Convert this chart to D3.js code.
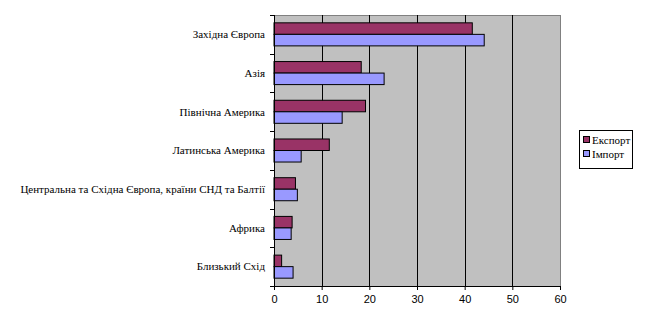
<!DOCTYPE html>
<html>
<head>
<meta charset="utf-8">
<script src="https://cdn.jsdelivr.net/npm/d3@7/dist/d3.min.js"></script>
<style>
  html, body { margin: 0; padding: 0; background: #fff; }
  svg { display: block; }
</style>
</head>
<body>
<svg id="chart" width="646" height="328"></svg>
<script>
// Regions, shares of export and import (%)
const regions = [
  "Західна Європа",
  "Азія",
  "Північна Америка",
  "Латинська Америка",
  "Центральна та Східна Європа, країни СНД та Балтії",
  "Африка",
  "Близький Схід"
];
const exportValues = [41.6, 18.3, 19.2, 11.6, 4.5, 3.8, 1.6];
const importValues = [44.1, 23.1, 14.3, 5.7, 4.9, 3.6, 4.0];
const seriesNames = ["Експорт", "Імпорт"];
const seriesColors = ["#993366", "#9999FF"];
const xTicks = [0, 10, 20, 30, 40, 50, 60];

const serif = "font-family:'Liberation Serif','Times New Roman',serif";
const sans = "font-family:'Liberation Sans',Arial,sans-serif";

const svg = d3.select("#chart");
const plot = { left: 274, right: 560, top: 15, bottom: 286 };

const x = d3.scaleLinear().domain([0, 60]).range([plot.left, plot.right]);
const y = d3.scaleBand().domain(regions).range([plot.top, plot.bottom]).paddingInner(0).paddingOuter(0);
const inner = d3.scaleBand().domain(seriesNames).range([0, y.bandwidth()]).paddingInner(0).paddingOuter(0.68);

// Plot background
svg.append("rect")
  .attr("x", plot.left).attr("y", plot.top)
  .attr("width", plot.right - plot.left).attr("height", plot.bottom - plot.top)
  .attr("fill", "#C0C0C0").attr("stroke", "#808080").attr("stroke-width", 1)
  .attr("shape-rendering", "crispEdges");

// Vertical gridlines
svg.append("g").selectAll("line")
  .data(xTicks.filter(t => t > 0 && t < 60))
  .join("line")
  .attr("x1", d => Math.round(x(d)) + 0.5).attr("x2", d => Math.round(x(d)) + 0.5)
  .attr("y1", plot.top).attr("y2", plot.bottom)
  .attr("stroke", "#000").attr("stroke-width", 1);

// Bars
const data = regions.map((r, i) => ({ region: r, values: [exportValues[i], importValues[i]] }));
const groups = svg.append("g").selectAll("g")
  .data(data).join("g")
  .attr("transform", d => `translate(0,${y(d.region)})`);
groups.selectAll("rect")
  .data(d => d.values.map((v, j) => ({ v, s: seriesNames[j], c: seriesColors[j] })))
  .join("rect")
  .attr("x", x(0))
  .attr("y", d => inner(d.s))
  .attr("width", d => x(d.v) - x(0))
  .attr("height", inner.bandwidth())
  .attr("fill", d => d.c)
  .attr("stroke", "#000").attr("stroke-width", 1);

// Bottom axis
const xAxis = svg.append("g")
  .attr("transform", `translate(0,${plot.bottom})`)
  .call(d3.axisBottom(x).tickValues(xTicks).tickSize(4).tickPadding(5).tickFormat(d3.format("d")));
xAxis.select(".domain").attr("stroke", "#000");
xAxis.selectAll(".tick line").attr("stroke", "#000");
xAxis.selectAll("text")
  .attr("style", sans + ";font-size:11px")
  .attr("fill", "#000");

// Left axis line and ticks at band boundaries
const yBounds = regions.map(r => y(r)).concat([plot.bottom]);
svg.append("line")
  .attr("x1", plot.left + 0.5).attr("x2", plot.left + 0.5)
  .attr("y1", plot.top).attr("y2", plot.bottom)
  .attr("stroke", "#000");
svg.append("g").selectAll("line")
  .data(yBounds).join("line")
  .attr("x1", plot.left - 4).attr("x2", plot.left)
  .attr("y1", d => Math.round(d) + 0.5).attr("y2", d => Math.round(d) + 0.5)
  .attr("stroke", "#000");

// Category labels
svg.append("g").selectAll("text")
  .data(regions).join("text")
  .attr("style", serif + ";font-size:11px")
  .attr("x", plot.left - 9)
  .attr("y", d => y(d) + y.bandwidth() / 2)
  .attr("dy", "0.35em")
  .attr("text-anchor", "end")
  .attr("fill", "#000")
  .text(d => d);

// Legend
const legend = svg.append("g");
legend.append("rect")
  .attr("x", 579.5).attr("y", 130.5).attr("width", 53).attr("height", 38)
  .attr("fill", "#fff").attr("stroke", "#000");
const items = legend.selectAll("g.item")
  .data(seriesNames).join("g")
  .attr("class", "item")
  .attr("transform", (d, i) => `translate(583,${140 + i * 14})`);
items.append("rect")
  .attr("x", 0.5).attr("y", -3.5).attr("width", 6).attr("height", 6)
  .attr("fill", (d, i) => seriesColors[i]).attr("stroke", "#000");
items.append("text")
  .attr("style", serif + ";font-size:11px")
  .attr("x", 9).attr("y", 0).attr("dy", "0.35em")
  .attr("fill", "#000")
  .text(d => d);
</script>
</body>
</html>
